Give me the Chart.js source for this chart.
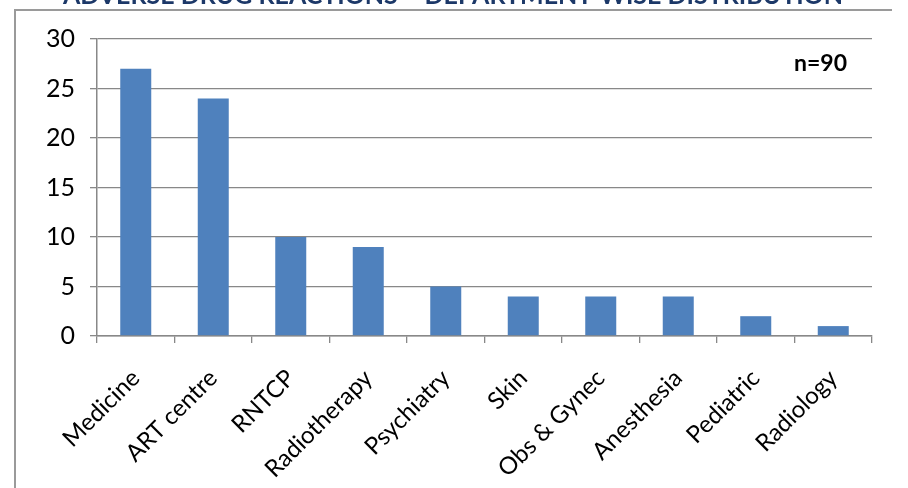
<!DOCTYPE html>
<html lang="en">
<head>
    <meta charset="UTF-8">
    <title>Department-wise distribution</title>
    <script src="https://cdn.jsdelivr.net/npm/chart.js"></script>
    <style>
        html, body {
            margin: 0;
            padding: 0;
            background: #fff;
            overflow: hidden;
        }
        #wrap {
            position: relative;
            width: 908px;
            height: 488px;
        }
        #frame {
            position: absolute;
            left: 14px;
            top: 9px;
            width: 876px;
            height: 490px;
            border-left: 2px solid #9a9a9a;
            border-top: 2px solid #9a9a9a;
            pointer-events: none;
        }
        #note {
            position: absolute;
            left: 794px;
            top: 48px;
            font-family: Lato, "Open Sans", sans-serif;
            font-weight: bold;
            font-size: 23px;
            color: #000;
        }
    </style>
</head>
<body>
<div id="wrap">
    <canvas id="deptChart" width="908" height="488"></canvas>
    <div id="frame"></div>
    <div id="note">n=90</div>
</div>

<script>
    // data
    const departments = ['Medicine', 'ART centre', 'RNTCP', 'Radiotherapy', 'Psychiatry',
        'Skin', 'Obs & Gynec', 'Anesthesia', 'Pediatric', 'Radiology'];
    const caseCounts = [27, 24, 10, 9, 5, 4, 4, 4, 2, 1];
    const yTicks = [0, 5, 10, 15, 20, 25, 30];

    const titleText = 'ADVERSE DRUG REACTIONS \u2013 DEPARTMENT-WISE DISTRIBUTION';

    // title sits above the frame and is cut off by the top of the page
    const cutTitle = {
        id: 'cutTitle',
        afterDraw(chart) {
            const ctx = chart.ctx;
            ctx.save();
            ctx.font = 'bold 25px Lato, "Open Sans", sans-serif';
            ctx.fillStyle = '#1c3868';
            ctx.textAlign = 'center';
            ctx.textBaseline = 'alphabetic';
            ctx.fillText(titleText, 453, 4);
            ctx.restore();
        }
    };

    const ctx = document.getElementById('deptChart').getContext('2d');
    new Chart(ctx, {
        type: 'bar',
        data: {
            labels: departments,
            datasets: [{
                label: 'Cases',
                data: caseCounts,
                backgroundColor: '#4f81bd',
                borderWidth: 0,
                categoryPercentage: 1,
                barPercentage: 0.4
            }]
        },
        options: {
            responsive: false,
            animation: false,
            layout: {
                padding: { left: 0, right: 36, top: 39, bottom: 0 }
            },
            plugins: {
                legend: { display: false },
                tooltip: { enabled: false }
            },
            scales: {
                x: {
                    afterFit(axis) { axis.height = 152; },
                    grid: {
                        display: true,
                        drawOnChartArea: false,
                        drawTicks: true,
                        tickLength: 7,
                        color: '#888',
                        lineWidth: 1.3
                    },
                    border: { color: '#888', width: 1.5 },
                    ticks: {
                        color: '#000',
                        font: { family: 'Lato, "Open Sans", sans-serif', size: 24 },
                        minRotation: 45,
                        maxRotation: 45,
                        autoSkip: false,
                        padding: 21
                    }
                },
                y: {
                    min: 0,
                    max: 30,
                    afterFit(axis) { axis.width = 97; },
                    afterBuildTicks(axis) {
                        axis.ticks = yTicks.map(v => ({ value: v }));
                    },
                    grid: {
                        color: '#888',
                        lineWidth: 1.3,
                        tickLength: 7
                    },
                    border: { color: '#888', width: 1.5 },
                    ticks: {
                        color: '#000',
                        font: { family: 'Lato, "Open Sans", sans-serif', size: 25 },
                        padding: 15
                    }
                }
            }
        },
        plugins: [cutTitle]
    });
</script>
</body>
</html>
